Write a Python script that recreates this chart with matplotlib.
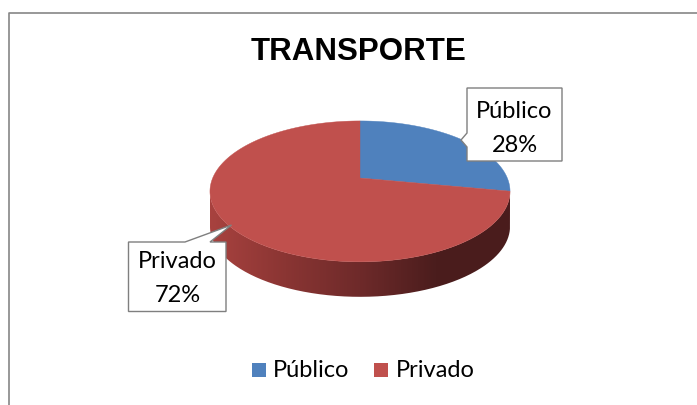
import numpy as np
import matplotlib
matplotlib.use("Agg")
import matplotlib.pyplot as plt
from matplotlib.patches import Polygon, Rectangle, PathPatch
from matplotlib.path import Path
from matplotlib.colors import LinearSegmentedColormap

# ---- data ----
title = "TRANSPORTE"
categories = ["Público", "Privado"]
values = [28, 72]
colors = ["#4F81BD", "#C0504D"]

W, H = 697, 405
fig = plt.figure(figsize=(W / 100, H / 100), dpi=100)
ax = fig.add_axes([0, 0, 1, 1])
ax.set_xlim(0, W)
ax.set_ylim(H, 0)
ax.axis("off")

# chart frame (only top and left visible)
ax.plot([9, 9, W], [H, 12.5, 12.5], color="#868686", lw=1.2, solid_capstyle="butt")

# ---- 3D pie geometry (perspective ellipse) ----
cx, cy = 360, 178
R, A, k = 147.3, 67.9, 0.19
depth = 35

def proj(theta_deg):
    t = np.radians(theta_deg)
    s = 1.0 / (1.0 + k * np.sin(t))
    return cx + R * np.cos(t) * s, cy - A * np.sin(t) * s

total = float(sum(values))
fracs = np.array(values) / total
starts = 90 - np.concatenate([[0], np.cumsum(fracs)[:-1]]) * 360
ends = starts - fracs * 360

# side (front visible wall) with horizontal gradient
th_l = 180 + np.degrees(np.arcsin(k))
th_r = 360 - np.degrees(np.arcsin(k))
th = np.linspace(th_l, th_r, 300)
xt, yt = proj(th)
side_pts = np.concatenate([np.column_stack([xt, yt]),
                           np.column_stack([xt[::-1], yt[::-1] + depth])])
side_path = Path(side_pts, closed=False)
side_patch = PathPatch(side_path, facecolor="none", edgecolor="none")
ax.add_patch(side_patch)
grad_cmap = LinearSegmentedColormap.from_list(
    "side", ["#a8423f", "#8a3533", "#6e2a2a", "#4b1d1d", "#4a1c1c"])
grad = np.linspace(0, 1, 256).reshape(1, -1)
x0, x1 = xt.min(), xt.max()
im = ax.imshow(grad, cmap=grad_cmap, extent=[x0, x1, yt.max() + depth + 2, yt.min() - 2],
               aspect="auto", interpolation="bilinear", zorder=1)
im.set_clip_path(side_patch)

# top face wedges
for st, en, col in zip(starts, ends, colors):
    angs = np.linspace(st, en, 200)
    px, py = proj(angs)
    pts = np.vstack([[cx, cy], np.column_stack([px, py])])
    ax.add_patch(Polygon(pts, closed=True, facecolor=col, edgecolor=col,
                         lw=0.3, zorder=2))

# ---- data label callouts ----
lab_font = dict(family=["Lato", "DejaVu Sans"], fontsize=17, color="black")
box_ec = "#7f7f7f"

# Público callout (pointer on left edge)
pub = [(467, 88), (562, 88), (562, 161), (467, 161), (467, 147),
       (461, 140), (467, 133)]
ax.add_patch(Polygon(pub, closed=True, facecolor="white", edgecolor=box_ec,
                     lw=1.0, zorder=3))
ax.text(514.5, 117.5, categories[0], ha="center", va="baseline", zorder=4, **lab_font)
ax.text(514.5, 151.5, f"{values[0]}%", ha="center", va="baseline", zorder=4, **lab_font)

# Privado callout (pointer on top edge)
pri = [(128.5, 242), (185, 242), (231.5, 225), (210, 242), (226, 242),
       (226, 311.5), (128.5, 311.5)]
ax.add_patch(Polygon(pri, closed=True, facecolor="white", edgecolor=box_ec,
                     lw=1.0, zorder=3))
ax.text(177.5, 268.3, categories[1], ha="center", va="baseline", zorder=4, **lab_font)
ax.text(177.5, 301.7, f"{values[1]}%", ha="center", va="baseline", zorder=4, **lab_font)

# ---- title ----
ax.text(358.5, 59.5, title, ha="center", va="baseline",
        family=["Liberation Sans", "DejaVu Sans"], fontweight="bold",
        fontsize=22.5, color="black")

# ---- legend ----
sq_x = [252, 374]
tx_x = [273, 396]
for cat, col, sx, tx in zip(categories, colors, sq_x, tx_x):
    ax.add_patch(Rectangle((sx, 363), 14, 14, facecolor=col, edgecolor="none"))
    ax.text(tx, 377.3, cat, ha="left", va="baseline", **lab_font)

fig.savefig("out.png", dpi=100)
